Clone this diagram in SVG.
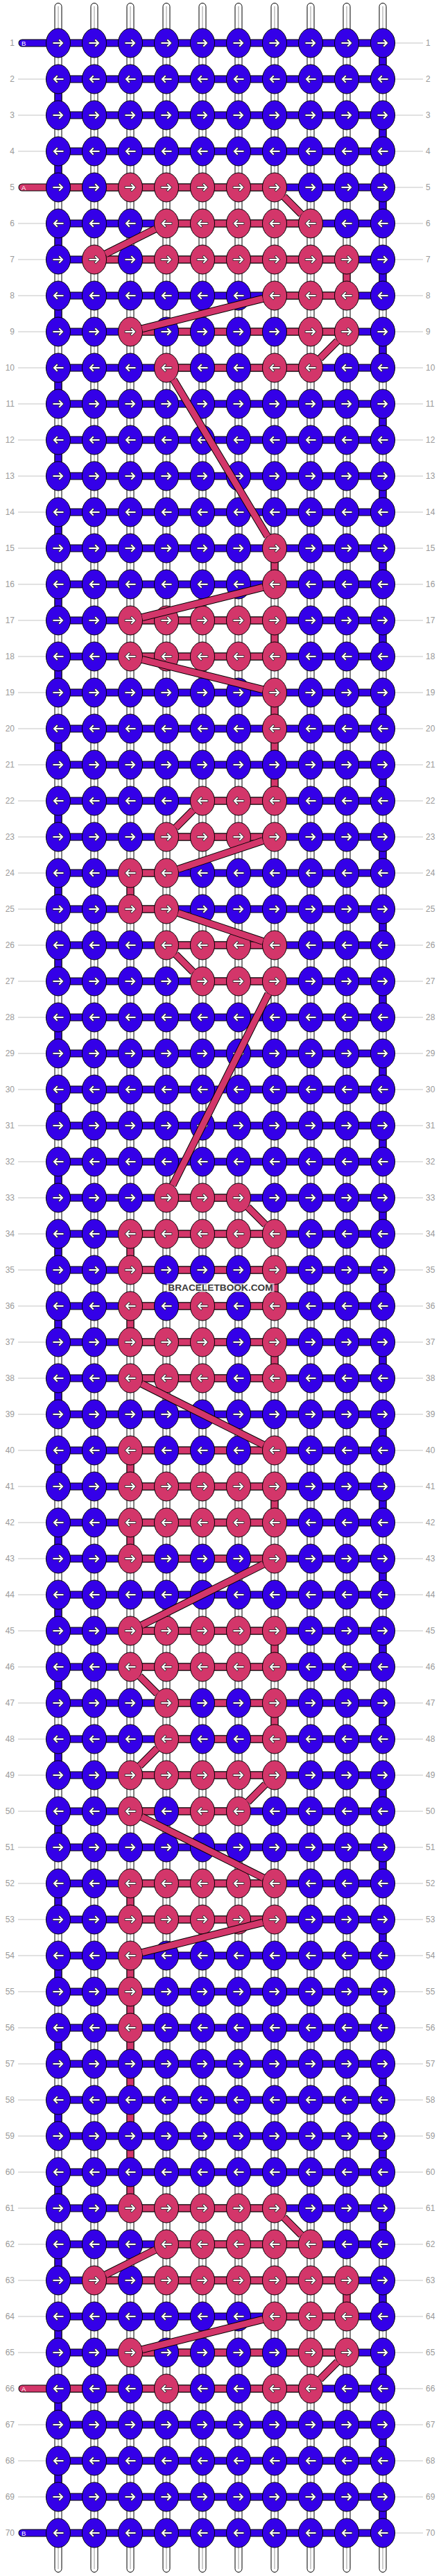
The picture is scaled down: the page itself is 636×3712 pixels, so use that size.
<svg xmlns="http://www.w3.org/2000/svg" xmlns:xlink="http://www.w3.org/1999/xlink" width="636" height="3712" viewBox="0 0 636 3712">
<defs>
<style>
.lb{font-family:"Liberation Sans",Arial,sans-serif;font-size:12px;fill:#9a9a9a}
.gl{fill:none;stroke:#c4c4c4;stroke-width:1}
.ol{fill:none;stroke:#000;stroke-width:11}
.bf{fill:none;stroke:#3400e8;stroke-width:9}
.pf{fill:none;stroke:#d3366a;stroke-width:9}
.rc{stroke-linecap:round}
.st{fill:#fff;stroke:#000;stroke-width:1}
.sm{stroke:#9a9a9a;stroke-width:1}
.ao{fill:none;stroke:#2a2a2a;stroke-width:3.6;stroke-linecap:square}
.ai{fill:none;stroke:#fff;stroke-width:2;stroke-linecap:square}
.tl{font-family:"Liberation Sans",Arial,sans-serif;font-size:9.5px;fill:#fff}
</style>
<g id="AR"><path class="ao" d="M-6.5,0H5.5M2,-4L6,0L2,4"/><path class="ai" d="M-6.5,0H5.5M2,-4L6,0L2,4"/></g>
<g id="BR"><ellipse rx="17.5" ry="21" fill="#3400e8" stroke="#000"/><use href="#AR"/></g>
<g id="BL"><ellipse rx="17.5" ry="21" fill="#3400e8" stroke="#000"/><use href="#AR" transform="scale(-1,1)"/></g>
<g id="PR"><ellipse rx="17.5" ry="21" fill="#d3366a" stroke="#000"/><use href="#AR"/></g>
<g id="PL"><ellipse rx="17.5" ry="21" fill="#d3366a" stroke="#000"/><use href="#AR" transform="scale(-1,1)"/></g>
<path id="hb" d="M84,62H552M84,114H552M84,166H552M84,218H552M84,270H552M84,322H552M84,374H552M84,426H552M84,478H552M84,530H552M84,582H552M84,634H552M84,686H552M84,738H552M84,790H552M84,842H552M84,894H552M84,946H552M84,998H552M84,1050H552M84,1102H552M84,1154H552M84,1206H552M84,1258H552M84,1310H552M84,1362H552M84,1414H552M84,1466H552M84,1518H552M84,1570H552M84,1622H552M84,1674H552M84,1726H552M84,1778H552M84,1830H552M84,1882H552M84,1934H552M84,1986H552M84,2038H552M84,2090H552M84,2142H552M84,2194H552M84,2246H552M84,2298H552M84,2350H552M84,2402H552M84,2454H552M84,2506H552M84,2558H552M84,2610H552M84,2662H552M84,2714H552M84,2766H552M84,2818H552M84,2870H552M84,2922H552M84,2974H552M84,3026H552M84,3078H552M84,3130H552M84,3182H552M84,3234H552M84,3286H552M84,3338H552M84,3390H552M84,3442H552M84,3494H552M84,3546H552M84,3598H552M84,3650H552"/>
<path id="ve" d="M552,62V114M552,166V218M552,270V322M552,374V426M552,478V530M552,582V634M552,686V738M552,790V842M552,894V946M552,998V1050M552,1102V1154M552,1206V1258M552,1310V1362M552,1414V1466M552,1518V1570M552,1622V1674M552,1726V1778M552,1830V1882M552,1934V1986M552,2038V2090M552,2142V2194M552,2246V2298M552,2350V2402M552,2454V2506M552,2558V2610M552,2662V2714M552,2766V2818M552,2870V2922M552,2974V3026M552,3078V3130M552,3182V3234M552,3286V3338M552,3390V3442M552,3494V3546M552,3598V3650M84,114V166M84,218V270M84,322V374M84,426V478M84,530V582M84,634V686M84,738V790M84,842V894M84,946V998M84,1050V1102M84,1154V1206M84,1258V1310M84,1362V1414M84,1466V1518M84,1570V1622M84,1674V1726M84,1778V1830M84,1882V1934M84,1986V2038M84,2090V2142M84,2194V2246M84,2298V2350M84,2402V2454M84,2506V2558M84,2610V2662M84,2714V2766M84,2818V2870M84,2922V2974M84,3026V3078M84,3130V3182M84,3234V3286M84,3338V3390M84,3442V3494M84,3546V3598"/>
<path id="tb" d="M32,62H84M32,3650H84"/>
<path id="ta" d="M32,270H84M32,3442H84"/>
<path id="hp" d="M84,270H396M240,322H448M136,374H500M396,426H500M188,478H500M240,530H448M188,894H396M188,946H396M292,1154H396M240,1206H396M188,1258H240M188,1310H240M240,1362H396M292,1414H396M240,1726H344M188,1778H396M188,1830H396M188,1882H396M188,1934H396M188,1986H396M188,2090H396M188,2142H396M188,2194H396M188,2246H396M188,2350H396M188,2402H396M240,2454H396M240,2506H396M188,2558H396M188,2610H344M188,2714H396M188,2766H396M188,3182H396M240,3234H448M136,3286H500M396,3338H500M188,3390H500M84,3442H448"/>
<path id="vp" d="M500,374V426M396,790V842M396,894V946M396,998V1154M188,1258V1310M188,1778V1830M396,1830V1882M188,1882V1934M396,1934V1986M188,2090V2142M396,2142V2194M188,2194V2246M396,2350V2402M396,2454V2506M188,2714V2766M188,2818V3182M500,3286V3338"/>
<path id="dg" d="M409.4,283.4L434.6,308.6M223.8,330.1L152.2,365.9M378.9,430.3L205.1,473.7M486.6,491.4L461.4,516.6M250.2,547L385.8,773M378.9,846.3L205.1,889.7M205.1,950.3L378.9,993.7M278.6,1167.4L253.4,1192.6M379.1,1211.6L256.9,1252.4M256.9,1315.6L379.1,1356.4M253.4,1375.4L278.6,1400.6M387,1432L249,1708M357.4,1739.4L382.6,1764.6M204.2,1994.1L379.8,2081.9M379.8,2254.1L204.2,2341.9M201.4,2415.4L226.6,2440.6M226.6,2519.4L201.4,2544.6M382.6,2571.4L357.4,2596.6M204.2,2618.1L379.8,2705.9M378.9,2770.3L205.1,2813.7M409.4,3195.4L434.6,3220.6M223.8,3242.1L152.2,3277.9M378.9,3342.3L205.1,3385.7M486.6,3403.4L461.4,3428.6"/>
</defs>
<rect width="636" height="3712" fill="#fff"/>
<g id="labels">
<path class="gl" d="M26,114H66M26,166H66M26,218H66M26,322H66M26,374H66M26,426H66M26,478H66M26,530H66M26,582H66M26,634H66M26,686H66M26,738H66M26,790H66M26,842H66M26,894H66M26,946H66M26,998H66M26,1050H66M26,1102H66M26,1154H66M26,1206H66M26,1258H66M26,1310H66M26,1362H66M26,1414H66M26,1466H66M26,1518H66M26,1570H66M26,1622H66M26,1674H66M26,1726H66M26,1778H66M26,1830H66M26,1882H66M26,1934H66M26,1986H66M26,2038H66M26,2090H66M26,2142H66M26,2194H66M26,2246H66M26,2298H66M26,2350H66M26,2402H66M26,2454H66M26,2506H66M26,2558H66M26,2610H66M26,2662H66M26,2714H66M26,2766H66M26,2818H66M26,2870H66M26,2922H66M26,2974H66M26,3026H66M26,3078H66M26,3130H66M26,3182H66M26,3234H66M26,3286H66M26,3338H66M26,3390H66M26,3494H66M26,3546H66M26,3598H66"/>
<path class="gl" d="M570,62H610M570,114H610M570,166H610M570,218H610M570,270H610M570,322H610M570,374H610M570,426H610M570,478H610M570,530H610M570,582H610M570,634H610M570,686H610M570,738H610M570,790H610M570,842H610M570,894H610M570,946H610M570,998H610M570,1050H610M570,1102H610M570,1154H610M570,1206H610M570,1258H610M570,1310H610M570,1362H610M570,1414H610M570,1466H610M570,1518H610M570,1570H610M570,1622H610M570,1674H610M570,1726H610M570,1778H610M570,1830H610M570,1882H610M570,1934H610M570,1986H610M570,2038H610M570,2090H610M570,2142H610M570,2194H610M570,2246H610M570,2298H610M570,2350H610M570,2402H610M570,2454H610M570,2506H610M570,2558H610M570,2610H610M570,2662H610M570,2714H610M570,2766H610M570,2818H610M570,2870H610M570,2922H610M570,2974H610M570,3026H610M570,3078H610M570,3130H610M570,3182H610M570,3234H610M570,3286H610M570,3338H610M570,3390H610M570,3442H610M570,3494H610M570,3546H610M570,3598H610M570,3650H610"/>
<g class="lb" text-anchor="end">
<text x="21" y="66">1</text><text x="21" y="118">2</text><text x="21" y="170">3</text><text x="21" y="222">4</text><text x="21" y="274">5</text><text x="21" y="326">6</text><text x="21" y="378">7</text><text x="21" y="430">8</text><text x="21" y="482">9</text><text x="21" y="534">10</text>
<text x="21" y="586">11</text><text x="21" y="638">12</text><text x="21" y="690">13</text><text x="21" y="742">14</text><text x="21" y="794">15</text><text x="21" y="846">16</text><text x="21" y="898">17</text><text x="21" y="950">18</text><text x="21" y="1002">19</text><text x="21" y="1054">20</text>
<text x="21" y="1106">21</text><text x="21" y="1158">22</text><text x="21" y="1210">23</text><text x="21" y="1262">24</text><text x="21" y="1314">25</text><text x="21" y="1366">26</text><text x="21" y="1418">27</text><text x="21" y="1470">28</text><text x="21" y="1522">29</text><text x="21" y="1574">30</text>
<text x="21" y="1626">31</text><text x="21" y="1678">32</text><text x="21" y="1730">33</text><text x="21" y="1782">34</text><text x="21" y="1834">35</text><text x="21" y="1886">36</text><text x="21" y="1938">37</text><text x="21" y="1990">38</text><text x="21" y="2042">39</text><text x="21" y="2094">40</text>
<text x="21" y="2146">41</text><text x="21" y="2198">42</text><text x="21" y="2250">43</text><text x="21" y="2302">44</text><text x="21" y="2354">45</text><text x="21" y="2406">46</text><text x="21" y="2458">47</text><text x="21" y="2510">48</text><text x="21" y="2562">49</text><text x="21" y="2614">50</text>
<text x="21" y="2666">51</text><text x="21" y="2718">52</text><text x="21" y="2770">53</text><text x="21" y="2822">54</text><text x="21" y="2874">55</text><text x="21" y="2926">56</text><text x="21" y="2978">57</text><text x="21" y="3030">58</text><text x="21" y="3082">59</text><text x="21" y="3134">60</text>
<text x="21" y="3186">61</text><text x="21" y="3238">62</text><text x="21" y="3290">63</text><text x="21" y="3342">64</text><text x="21" y="3394">65</text><text x="21" y="3446">66</text><text x="21" y="3498">67</text><text x="21" y="3550">68</text><text x="21" y="3602">69</text><text x="21" y="3654">70</text>
</g>
<g class="lb" text-anchor="start">
<text x="614" y="66">1</text><text x="614" y="118">2</text><text x="614" y="170">3</text><text x="614" y="222">4</text><text x="614" y="274">5</text><text x="614" y="326">6</text><text x="614" y="378">7</text><text x="614" y="430">8</text><text x="614" y="482">9</text><text x="614" y="534">10</text>
<text x="614" y="586">11</text><text x="614" y="638">12</text><text x="614" y="690">13</text><text x="614" y="742">14</text><text x="614" y="794">15</text><text x="614" y="846">16</text><text x="614" y="898">17</text><text x="614" y="950">18</text><text x="614" y="1002">19</text><text x="614" y="1054">20</text>
<text x="614" y="1106">21</text><text x="614" y="1158">22</text><text x="614" y="1210">23</text><text x="614" y="1262">24</text><text x="614" y="1314">25</text><text x="614" y="1366">26</text><text x="614" y="1418">27</text><text x="614" y="1470">28</text><text x="614" y="1522">29</text><text x="614" y="1574">30</text>
<text x="614" y="1626">31</text><text x="614" y="1678">32</text><text x="614" y="1730">33</text><text x="614" y="1782">34</text><text x="614" y="1834">35</text><text x="614" y="1886">36</text><text x="614" y="1938">37</text><text x="614" y="1990">38</text><text x="614" y="2042">39</text><text x="614" y="2094">40</text>
<text x="614" y="2146">41</text><text x="614" y="2198">42</text><text x="614" y="2250">43</text><text x="614" y="2302">44</text><text x="614" y="2354">45</text><text x="614" y="2406">46</text><text x="614" y="2458">47</text><text x="614" y="2510">48</text><text x="614" y="2562">49</text><text x="614" y="2614">50</text>
<text x="614" y="2666">51</text><text x="614" y="2718">52</text><text x="614" y="2770">53</text><text x="614" y="2822">54</text><text x="614" y="2874">55</text><text x="614" y="2926">56</text><text x="614" y="2978">57</text><text x="614" y="3030">58</text><text x="614" y="3082">59</text><text x="614" y="3134">60</text>
<text x="614" y="3186">61</text><text x="614" y="3238">62</text><text x="614" y="3290">63</text><text x="614" y="3342">64</text><text x="614" y="3394">65</text><text x="614" y="3446">66</text><text x="614" y="3498">67</text><text x="614" y="3550">68</text><text x="614" y="3602">69</text><text x="614" y="3654">70</text>
</g>
</g>
<g id="strands">
<rect class="st" x="79" y="4.5" width="10" height="3702" rx="5"/><path class="sm" d="M84,9V3702"/>
<rect class="st" x="131" y="4.5" width="10" height="3702" rx="5"/><path class="sm" d="M136,9V3702"/>
<rect class="st" x="183" y="4.5" width="10" height="3702" rx="5"/><path class="sm" d="M188,9V3702"/>
<rect class="st" x="235" y="4.5" width="10" height="3702" rx="5"/><path class="sm" d="M240,9V3702"/>
<rect class="st" x="287" y="4.5" width="10" height="3702" rx="5"/><path class="sm" d="M292,9V3702"/>
<rect class="st" x="339" y="4.5" width="10" height="3702" rx="5"/><path class="sm" d="M344,9V3702"/>
<rect class="st" x="391" y="4.5" width="10" height="3702" rx="5"/><path class="sm" d="M396,9V3702"/>
<rect class="st" x="443" y="4.5" width="10" height="3702" rx="5"/><path class="sm" d="M448,9V3702"/>
<rect class="st" x="495" y="4.5" width="10" height="3702" rx="5"/><path class="sm" d="M500,9V3702"/>
<rect class="st" x="547" y="4.5" width="10" height="3702" rx="5"/><path class="sm" d="M552,9V3702"/>
</g>
<g id="threads">
<use href="#hb" class="ol"/><use href="#hb" class="bf"/>
<use href="#ve" class="ol"/><use href="#ve" class="bf"/>
<use href="#tb" class="ol rc"/><use href="#tb" class="bf rc"/>
<use href="#ta" class="ol rc"/><use href="#ta" class="pf rc"/>
<use href="#hp" class="ol"/><use href="#hp" class="pf"/>
<use href="#vp" class="ol"/><use href="#vp" class="pf"/>
<text class="tl" x="31" y="65.5">B</text>
<text class="tl" x="31" y="273.5">A</text>
<text class="tl" x="31" y="3445.5">A</text>
<text class="tl" x="31" y="3653.5">B</text>
</g>
<g id="nodes">
<g id="row1" transform="translate(0,62)"><g id="n1-1"><use href="#BR" x="84"/></g><g id="n1-2"><use href="#BR" x="136"/></g><g id="n1-3"><use href="#BR" x="188"/></g><g id="n1-4"><use href="#BR" x="240"/></g><g id="n1-5"><use href="#BR" x="292"/></g><g id="n1-6"><use href="#BR" x="344"/></g><g id="n1-7"><use href="#BR" x="396"/></g><g id="n1-8"><use href="#BR" x="448"/></g><g id="n1-9"><use href="#BR" x="500"/></g><g id="n1-10"><use href="#BR" x="552"/></g></g>
<g id="row2" transform="translate(0,114)"><g id="n2-1"><use href="#BL" x="84"/></g><g id="n2-2"><use href="#BL" x="136"/></g><g id="n2-3"><use href="#BL" x="188"/></g><g id="n2-4"><use href="#BL" x="240"/></g><g id="n2-5"><use href="#BL" x="292"/></g><g id="n2-6"><use href="#BL" x="344"/></g><g id="n2-7"><use href="#BL" x="396"/></g><g id="n2-8"><use href="#BL" x="448"/></g><g id="n2-9"><use href="#BL" x="500"/></g><g id="n2-10"><use href="#BL" x="552"/></g></g>
<g id="row3" transform="translate(0,166)"><g id="n3-1"><use href="#BR" x="84"/></g><g id="n3-2"><use href="#BR" x="136"/></g><g id="n3-3"><use href="#BR" x="188"/></g><g id="n3-4"><use href="#BR" x="240"/></g><g id="n3-5"><use href="#BR" x="292"/></g><g id="n3-6"><use href="#BR" x="344"/></g><g id="n3-7"><use href="#BR" x="396"/></g><g id="n3-8"><use href="#BR" x="448"/></g><g id="n3-9"><use href="#BR" x="500"/></g><g id="n3-10"><use href="#BR" x="552"/></g></g>
<g id="row4" transform="translate(0,218)"><g id="n4-1"><use href="#BL" x="84"/></g><g id="n4-2"><use href="#BL" x="136"/></g><g id="n4-3"><use href="#BL" x="188"/></g><g id="n4-4"><use href="#BL" x="240"/></g><g id="n4-5"><use href="#BL" x="292"/></g><g id="n4-6"><use href="#BL" x="344"/></g><g id="n4-7"><use href="#BL" x="396"/></g><g id="n4-8"><use href="#BL" x="448"/></g><g id="n4-9"><use href="#BL" x="500"/></g><g id="n4-10"><use href="#BL" x="552"/></g></g>
<g id="row5" transform="translate(0,270)"><g id="n5-1"><use href="#BR" x="84"/></g><g id="n5-2"><use href="#BR" x="136"/></g><g id="n5-3"><use href="#PR" x="188"/></g><g id="n5-4"><use href="#PR" x="240"/></g><g id="n5-5"><use href="#PR" x="292"/></g><g id="n5-6"><use href="#PR" x="344"/></g><g id="n5-7"><use href="#PR" x="396"/></g><g id="n5-8"><use href="#BR" x="448"/></g><g id="n5-9"><use href="#BR" x="500"/></g><g id="n5-10"><use href="#BR" x="552"/></g></g>
<g id="row6" transform="translate(0,322)"><g id="n6-1"><use href="#BL" x="84"/></g><g id="n6-2"><use href="#BL" x="136"/></g><g id="n6-3"><use href="#BL" x="188"/></g><g id="n6-4"><use href="#PL" x="240"/></g><g id="n6-5"><use href="#PL" x="292"/></g><g id="n6-6"><use href="#PL" x="344"/></g><g id="n6-7"><use href="#PL" x="396"/></g><g id="n6-8"><use href="#PL" x="448"/></g><g id="n6-9"><use href="#BL" x="500"/></g><g id="n6-10"><use href="#BL" x="552"/></g></g>
<g id="row7" transform="translate(0,374)"><g id="n7-1"><use href="#BR" x="84"/></g><g id="n7-2"><use href="#PR" x="136"/></g><g id="n7-3"><use href="#BR" x="188"/></g><g id="n7-4"><use href="#PR" x="240"/></g><g id="n7-5"><use href="#PR" x="292"/></g><g id="n7-6"><use href="#PR" x="344"/></g><g id="n7-7"><use href="#PR" x="396"/></g><g id="n7-8"><use href="#PR" x="448"/></g><g id="n7-9"><use href="#PR" x="500"/></g><g id="n7-10"><use href="#BR" x="552"/></g></g>
<g id="row8" transform="translate(0,426)"><g id="n8-1"><use href="#BL" x="84"/></g><g id="n8-2"><use href="#BL" x="136"/></g><g id="n8-3"><use href="#BL" x="188"/></g><g id="n8-4"><use href="#BL" x="240"/></g><g id="n8-5"><use href="#BL" x="292"/></g><g id="n8-6"><use href="#BL" x="344"/></g><g id="n8-7"><use href="#PL" x="396"/></g><g id="n8-8"><use href="#PL" x="448"/></g><g id="n8-9"><use href="#PL" x="500"/></g><g id="n8-10"><use href="#BL" x="552"/></g></g>
<g id="row9" transform="translate(0,478)"><g id="n9-1"><use href="#BR" x="84"/></g><g id="n9-2"><use href="#BR" x="136"/></g><g id="n9-3"><use href="#PR" x="188"/></g><g id="n9-4"><use href="#BR" x="240"/></g><g id="n9-5"><use href="#BR" x="292"/></g><g id="n9-6"><use href="#BR" x="344"/></g><g id="n9-7"><use href="#BR" x="396"/></g><g id="n9-8"><use href="#PR" x="448"/></g><g id="n9-9"><use href="#PR" x="500"/></g><g id="n9-10"><use href="#BR" x="552"/></g></g>
<g id="row10" transform="translate(0,530)"><g id="n10-1"><use href="#BL" x="84"/></g><g id="n10-2"><use href="#BL" x="136"/></g><g id="n10-3"><use href="#BL" x="188"/></g><g id="n10-4"><use href="#PL" x="240"/></g><g id="n10-5"><use href="#BL" x="292"/></g><g id="n10-6"><use href="#BL" x="344"/></g><g id="n10-7"><use href="#PL" x="396"/></g><g id="n10-8"><use href="#PL" x="448"/></g><g id="n10-9"><use href="#BL" x="500"/></g><g id="n10-10"><use href="#BL" x="552"/></g></g>
<g id="row11" transform="translate(0,582)"><g id="n11-1"><use href="#BR" x="84"/></g><g id="n11-2"><use href="#BR" x="136"/></g><g id="n11-3"><use href="#BR" x="188"/></g><g id="n11-4"><use href="#BR" x="240"/></g><g id="n11-5"><use href="#BR" x="292"/></g><g id="n11-6"><use href="#BR" x="344"/></g><g id="n11-7"><use href="#BR" x="396"/></g><g id="n11-8"><use href="#BR" x="448"/></g><g id="n11-9"><use href="#BR" x="500"/></g><g id="n11-10"><use href="#BR" x="552"/></g></g>
<g id="row12" transform="translate(0,634)"><g id="n12-1"><use href="#BL" x="84"/></g><g id="n12-2"><use href="#BL" x="136"/></g><g id="n12-3"><use href="#BL" x="188"/></g><g id="n12-4"><use href="#BL" x="240"/></g><g id="n12-5"><use href="#BL" x="292"/></g><g id="n12-6"><use href="#BL" x="344"/></g><g id="n12-7"><use href="#BL" x="396"/></g><g id="n12-8"><use href="#BL" x="448"/></g><g id="n12-9"><use href="#BL" x="500"/></g><g id="n12-10"><use href="#BL" x="552"/></g></g>
<g id="row13" transform="translate(0,686)"><g id="n13-1"><use href="#BR" x="84"/></g><g id="n13-2"><use href="#BR" x="136"/></g><g id="n13-3"><use href="#BR" x="188"/></g><g id="n13-4"><use href="#BR" x="240"/></g><g id="n13-5"><use href="#BR" x="292"/></g><g id="n13-6"><use href="#BR" x="344"/></g><g id="n13-7"><use href="#BR" x="396"/></g><g id="n13-8"><use href="#BR" x="448"/></g><g id="n13-9"><use href="#BR" x="500"/></g><g id="n13-10"><use href="#BR" x="552"/></g></g>
<g id="row14" transform="translate(0,738)"><g id="n14-1"><use href="#BL" x="84"/></g><g id="n14-2"><use href="#BL" x="136"/></g><g id="n14-3"><use href="#BL" x="188"/></g><g id="n14-4"><use href="#BL" x="240"/></g><g id="n14-5"><use href="#BL" x="292"/></g><g id="n14-6"><use href="#BL" x="344"/></g><g id="n14-7"><use href="#BL" x="396"/></g><g id="n14-8"><use href="#BL" x="448"/></g><g id="n14-9"><use href="#BL" x="500"/></g><g id="n14-10"><use href="#BL" x="552"/></g></g>
<g id="row15" transform="translate(0,790)"><g id="n15-1"><use href="#BR" x="84"/></g><g id="n15-2"><use href="#BR" x="136"/></g><g id="n15-3"><use href="#BR" x="188"/></g><g id="n15-4"><use href="#BR" x="240"/></g><g id="n15-5"><use href="#BR" x="292"/></g><g id="n15-6"><use href="#BR" x="344"/></g><g id="n15-7"><use href="#PR" x="396"/></g><g id="n15-8"><use href="#BR" x="448"/></g><g id="n15-9"><use href="#BR" x="500"/></g><g id="n15-10"><use href="#BR" x="552"/></g></g>
<g id="row16" transform="translate(0,842)"><g id="n16-1"><use href="#BL" x="84"/></g><g id="n16-2"><use href="#BL" x="136"/></g><g id="n16-3"><use href="#BL" x="188"/></g><g id="n16-4"><use href="#BL" x="240"/></g><g id="n16-5"><use href="#BL" x="292"/></g><g id="n16-6"><use href="#BL" x="344"/></g><g id="n16-7"><use href="#PL" x="396"/></g><g id="n16-8"><use href="#BL" x="448"/></g><g id="n16-9"><use href="#BL" x="500"/></g><g id="n16-10"><use href="#BL" x="552"/></g></g>
<g id="row17" transform="translate(0,894)"><g id="n17-1"><use href="#BR" x="84"/></g><g id="n17-2"><use href="#BR" x="136"/></g><g id="n17-3"><use href="#PR" x="188"/></g><g id="n17-4"><use href="#PR" x="240"/></g><g id="n17-5"><use href="#PR" x="292"/></g><g id="n17-6"><use href="#PR" x="344"/></g><g id="n17-7"><use href="#PR" x="396"/></g><g id="n17-8"><use href="#BR" x="448"/></g><g id="n17-9"><use href="#BR" x="500"/></g><g id="n17-10"><use href="#BR" x="552"/></g></g>
<g id="row18" transform="translate(0,946)"><g id="n18-1"><use href="#BL" x="84"/></g><g id="n18-2"><use href="#BL" x="136"/></g><g id="n18-3"><use href="#PL" x="188"/></g><g id="n18-4"><use href="#PL" x="240"/></g><g id="n18-5"><use href="#PL" x="292"/></g><g id="n18-6"><use href="#PL" x="344"/></g><g id="n18-7"><use href="#PL" x="396"/></g><g id="n18-8"><use href="#BL" x="448"/></g><g id="n18-9"><use href="#BL" x="500"/></g><g id="n18-10"><use href="#BL" x="552"/></g></g>
<g id="row19" transform="translate(0,998)"><g id="n19-1"><use href="#BR" x="84"/></g><g id="n19-2"><use href="#BR" x="136"/></g><g id="n19-3"><use href="#BR" x="188"/></g><g id="n19-4"><use href="#BR" x="240"/></g><g id="n19-5"><use href="#BR" x="292"/></g><g id="n19-6"><use href="#BR" x="344"/></g><g id="n19-7"><use href="#PR" x="396"/></g><g id="n19-8"><use href="#BR" x="448"/></g><g id="n19-9"><use href="#BR" x="500"/></g><g id="n19-10"><use href="#BR" x="552"/></g></g>
<g id="row20" transform="translate(0,1050)"><g id="n20-1"><use href="#BL" x="84"/></g><g id="n20-2"><use href="#BL" x="136"/></g><g id="n20-3"><use href="#BL" x="188"/></g><g id="n20-4"><use href="#BL" x="240"/></g><g id="n20-5"><use href="#BL" x="292"/></g><g id="n20-6"><use href="#BL" x="344"/></g><g id="n20-7"><use href="#PL" x="396"/></g><g id="n20-8"><use href="#BL" x="448"/></g><g id="n20-9"><use href="#BL" x="500"/></g><g id="n20-10"><use href="#BL" x="552"/></g></g>
<g id="row21" transform="translate(0,1102)"><g id="n21-1"><use href="#BR" x="84"/></g><g id="n21-2"><use href="#BR" x="136"/></g><g id="n21-3"><use href="#BR" x="188"/></g><g id="n21-4"><use href="#BR" x="240"/></g><g id="n21-5"><use href="#BR" x="292"/></g><g id="n21-6"><use href="#BR" x="344"/></g><g id="n21-7"><use href="#BR" x="396"/></g><g id="n21-8"><use href="#BR" x="448"/></g><g id="n21-9"><use href="#BR" x="500"/></g><g id="n21-10"><use href="#BR" x="552"/></g></g>
<g id="row22" transform="translate(0,1154)"><g id="n22-1"><use href="#BL" x="84"/></g><g id="n22-2"><use href="#BL" x="136"/></g><g id="n22-3"><use href="#BL" x="188"/></g><g id="n22-4"><use href="#BL" x="240"/></g><g id="n22-5"><use href="#PL" x="292"/></g><g id="n22-6"><use href="#PL" x="344"/></g><g id="n22-7"><use href="#PL" x="396"/></g><g id="n22-8"><use href="#BL" x="448"/></g><g id="n22-9"><use href="#BL" x="500"/></g><g id="n22-10"><use href="#BL" x="552"/></g></g>
<g id="row23" transform="translate(0,1206)"><g id="n23-1"><use href="#BR" x="84"/></g><g id="n23-2"><use href="#BR" x="136"/></g><g id="n23-3"><use href="#BR" x="188"/></g><g id="n23-4"><use href="#PR" x="240"/></g><g id="n23-5"><use href="#PR" x="292"/></g><g id="n23-6"><use href="#PR" x="344"/></g><g id="n23-7"><use href="#PR" x="396"/></g><g id="n23-8"><use href="#BR" x="448"/></g><g id="n23-9"><use href="#BR" x="500"/></g><g id="n23-10"><use href="#BR" x="552"/></g></g>
<g id="row24" transform="translate(0,1258)"><g id="n24-1"><use href="#BL" x="84"/></g><g id="n24-2"><use href="#BL" x="136"/></g><g id="n24-3"><use href="#PL" x="188"/></g><g id="n24-4"><use href="#PL" x="240"/></g><g id="n24-5"><use href="#BL" x="292"/></g><g id="n24-6"><use href="#BL" x="344"/></g><g id="n24-7"><use href="#BL" x="396"/></g><g id="n24-8"><use href="#BL" x="448"/></g><g id="n24-9"><use href="#BL" x="500"/></g><g id="n24-10"><use href="#BL" x="552"/></g></g>
<g id="row25" transform="translate(0,1310)"><g id="n25-1"><use href="#BR" x="84"/></g><g id="n25-2"><use href="#BR" x="136"/></g><g id="n25-3"><use href="#PR" x="188"/></g><g id="n25-4"><use href="#PR" x="240"/></g><g id="n25-5"><use href="#BR" x="292"/></g><g id="n25-6"><use href="#BR" x="344"/></g><g id="n25-7"><use href="#BR" x="396"/></g><g id="n25-8"><use href="#BR" x="448"/></g><g id="n25-9"><use href="#BR" x="500"/></g><g id="n25-10"><use href="#BR" x="552"/></g></g>
<g id="row26" transform="translate(0,1362)"><g id="n26-1"><use href="#BL" x="84"/></g><g id="n26-2"><use href="#BL" x="136"/></g><g id="n26-3"><use href="#BL" x="188"/></g><g id="n26-4"><use href="#PL" x="240"/></g><g id="n26-5"><use href="#PL" x="292"/></g><g id="n26-6"><use href="#PL" x="344"/></g><g id="n26-7"><use href="#PL" x="396"/></g><g id="n26-8"><use href="#BL" x="448"/></g><g id="n26-9"><use href="#BL" x="500"/></g><g id="n26-10"><use href="#BL" x="552"/></g></g>
<g id="row27" transform="translate(0,1414)"><g id="n27-1"><use href="#BR" x="84"/></g><g id="n27-2"><use href="#BR" x="136"/></g><g id="n27-3"><use href="#BR" x="188"/></g><g id="n27-4"><use href="#BR" x="240"/></g><g id="n27-5"><use href="#PR" x="292"/></g><g id="n27-6"><use href="#PR" x="344"/></g><g id="n27-7"><use href="#PR" x="396"/></g><g id="n27-8"><use href="#BR" x="448"/></g><g id="n27-9"><use href="#BR" x="500"/></g><g id="n27-10"><use href="#BR" x="552"/></g></g>
<g id="row28" transform="translate(0,1466)"><g id="n28-1"><use href="#BL" x="84"/></g><g id="n28-2"><use href="#BL" x="136"/></g><g id="n28-3"><use href="#BL" x="188"/></g><g id="n28-4"><use href="#BL" x="240"/></g><g id="n28-5"><use href="#BL" x="292"/></g><g id="n28-6"><use href="#BL" x="344"/></g><g id="n28-7"><use href="#BL" x="396"/></g><g id="n28-8"><use href="#BL" x="448"/></g><g id="n28-9"><use href="#BL" x="500"/></g><g id="n28-10"><use href="#BL" x="552"/></g></g>
<g id="row29" transform="translate(0,1518)"><g id="n29-1"><use href="#BR" x="84"/></g><g id="n29-2"><use href="#BR" x="136"/></g><g id="n29-3"><use href="#BR" x="188"/></g><g id="n29-4"><use href="#BR" x="240"/></g><g id="n29-5"><use href="#BR" x="292"/></g><g id="n29-6"><use href="#BR" x="344"/></g><g id="n29-7"><use href="#BR" x="396"/></g><g id="n29-8"><use href="#BR" x="448"/></g><g id="n29-9"><use href="#BR" x="500"/></g><g id="n29-10"><use href="#BR" x="552"/></g></g>
<g id="row30" transform="translate(0,1570)"><g id="n30-1"><use href="#BL" x="84"/></g><g id="n30-2"><use href="#BL" x="136"/></g><g id="n30-3"><use href="#BL" x="188"/></g><g id="n30-4"><use href="#BL" x="240"/></g><g id="n30-5"><use href="#BL" x="292"/></g><g id="n30-6"><use href="#BL" x="344"/></g><g id="n30-7"><use href="#BL" x="396"/></g><g id="n30-8"><use href="#BL" x="448"/></g><g id="n30-9"><use href="#BL" x="500"/></g><g id="n30-10"><use href="#BL" x="552"/></g></g>
<g id="row31" transform="translate(0,1622)"><g id="n31-1"><use href="#BR" x="84"/></g><g id="n31-2"><use href="#BR" x="136"/></g><g id="n31-3"><use href="#BR" x="188"/></g><g id="n31-4"><use href="#BR" x="240"/></g><g id="n31-5"><use href="#BR" x="292"/></g><g id="n31-6"><use href="#BR" x="344"/></g><g id="n31-7"><use href="#BR" x="396"/></g><g id="n31-8"><use href="#BR" x="448"/></g><g id="n31-9"><use href="#BR" x="500"/></g><g id="n31-10"><use href="#BR" x="552"/></g></g>
<g id="row32" transform="translate(0,1674)"><g id="n32-1"><use href="#BL" x="84"/></g><g id="n32-2"><use href="#BL" x="136"/></g><g id="n32-3"><use href="#BL" x="188"/></g><g id="n32-4"><use href="#BL" x="240"/></g><g id="n32-5"><use href="#BL" x="292"/></g><g id="n32-6"><use href="#BL" x="344"/></g><g id="n32-7"><use href="#BL" x="396"/></g><g id="n32-8"><use href="#BL" x="448"/></g><g id="n32-9"><use href="#BL" x="500"/></g><g id="n32-10"><use href="#BL" x="552"/></g></g>
<g id="row33" transform="translate(0,1726)"><g id="n33-1"><use href="#BR" x="84"/></g><g id="n33-2"><use href="#BR" x="136"/></g><g id="n33-3"><use href="#BR" x="188"/></g><g id="n33-4"><use href="#PR" x="240"/></g><g id="n33-5"><use href="#PR" x="292"/></g><g id="n33-6"><use href="#PR" x="344"/></g><g id="n33-7"><use href="#BR" x="396"/></g><g id="n33-8"><use href="#BR" x="448"/></g><g id="n33-9"><use href="#BR" x="500"/></g><g id="n33-10"><use href="#BR" x="552"/></g></g>
<g id="row34" transform="translate(0,1778)"><g id="n34-1"><use href="#BL" x="84"/></g><g id="n34-2"><use href="#BL" x="136"/></g><g id="n34-3"><use href="#PL" x="188"/></g><g id="n34-4"><use href="#PL" x="240"/></g><g id="n34-5"><use href="#PL" x="292"/></g><g id="n34-6"><use href="#PL" x="344"/></g><g id="n34-7"><use href="#PL" x="396"/></g><g id="n34-8"><use href="#BL" x="448"/></g><g id="n34-9"><use href="#BL" x="500"/></g><g id="n34-10"><use href="#BL" x="552"/></g></g>
<g id="row35" transform="translate(0,1830)"><g id="n35-1"><use href="#BR" x="84"/></g><g id="n35-2"><use href="#BR" x="136"/></g><g id="n35-3"><use href="#PR" x="188"/></g><g id="n35-4"><use href="#BR" x="240"/></g><g id="n35-5"><use href="#BR" x="292"/></g><g id="n35-6"><use href="#BR" x="344"/></g><g id="n35-7"><use href="#PR" x="396"/></g><g id="n35-8"><use href="#BR" x="448"/></g><g id="n35-9"><use href="#BR" x="500"/></g><g id="n35-10"><use href="#BR" x="552"/></g></g>
<g id="row36" transform="translate(0,1882)"><g id="n36-1"><use href="#BL" x="84"/></g><g id="n36-2"><use href="#BL" x="136"/></g><g id="n36-3"><use href="#PL" x="188"/></g><g id="n36-4"><use href="#BL" x="240"/></g><g id="n36-5"><use href="#PL" x="292"/></g><g id="n36-6"><use href="#BL" x="344"/></g><g id="n36-7"><use href="#PL" x="396"/></g><g id="n36-8"><use href="#BL" x="448"/></g><g id="n36-9"><use href="#BL" x="500"/></g><g id="n36-10"><use href="#BL" x="552"/></g></g>
<g id="row37" transform="translate(0,1934)"><g id="n37-1"><use href="#BR" x="84"/></g><g id="n37-2"><use href="#BR" x="136"/></g><g id="n37-3"><use href="#PR" x="188"/></g><g id="n37-4"><use href="#PR" x="240"/></g><g id="n37-5"><use href="#PR" x="292"/></g><g id="n37-6"><use href="#BR" x="344"/></g><g id="n37-7"><use href="#PR" x="396"/></g><g id="n37-8"><use href="#BR" x="448"/></g><g id="n37-9"><use href="#BR" x="500"/></g><g id="n37-10"><use href="#BR" x="552"/></g></g>
<g id="row38" transform="translate(0,1986)"><g id="n38-1"><use href="#BL" x="84"/></g><g id="n38-2"><use href="#BL" x="136"/></g><g id="n38-3"><use href="#PL" x="188"/></g><g id="n38-4"><use href="#PL" x="240"/></g><g id="n38-5"><use href="#PL" x="292"/></g><g id="n38-6"><use href="#BL" x="344"/></g><g id="n38-7"><use href="#PL" x="396"/></g><g id="n38-8"><use href="#BL" x="448"/></g><g id="n38-9"><use href="#BL" x="500"/></g><g id="n38-10"><use href="#BL" x="552"/></g></g>
<g id="row39" transform="translate(0,2038)"><g id="n39-1"><use href="#BR" x="84"/></g><g id="n39-2"><use href="#BR" x="136"/></g><g id="n39-3"><use href="#BR" x="188"/></g><g id="n39-4"><use href="#BR" x="240"/></g><g id="n39-5"><use href="#BR" x="292"/></g><g id="n39-6"><use href="#BR" x="344"/></g><g id="n39-7"><use href="#BR" x="396"/></g><g id="n39-8"><use href="#BR" x="448"/></g><g id="n39-9"><use href="#BR" x="500"/></g><g id="n39-10"><use href="#BR" x="552"/></g></g>
<g id="row40" transform="translate(0,2090)"><g id="n40-1"><use href="#BL" x="84"/></g><g id="n40-2"><use href="#BL" x="136"/></g><g id="n40-3"><use href="#PL" x="188"/></g><g id="n40-4"><use href="#BL" x="240"/></g><g id="n40-5"><use href="#BL" x="292"/></g><g id="n40-6"><use href="#BL" x="344"/></g><g id="n40-7"><use href="#PL" x="396"/></g><g id="n40-8"><use href="#BL" x="448"/></g><g id="n40-9"><use href="#BL" x="500"/></g><g id="n40-10"><use href="#BL" x="552"/></g></g>
<g id="row41" transform="translate(0,2142)"><g id="n41-1"><use href="#BR" x="84"/></g><g id="n41-2"><use href="#BR" x="136"/></g><g id="n41-3"><use href="#PR" x="188"/></g><g id="n41-4"><use href="#PR" x="240"/></g><g id="n41-5"><use href="#PR" x="292"/></g><g id="n41-6"><use href="#PR" x="344"/></g><g id="n41-7"><use href="#PR" x="396"/></g><g id="n41-8"><use href="#BR" x="448"/></g><g id="n41-9"><use href="#BR" x="500"/></g><g id="n41-10"><use href="#BR" x="552"/></g></g>
<g id="row42" transform="translate(0,2194)"><g id="n42-1"><use href="#BL" x="84"/></g><g id="n42-2"><use href="#BL" x="136"/></g><g id="n42-3"><use href="#PL" x="188"/></g><g id="n42-4"><use href="#PL" x="240"/></g><g id="n42-5"><use href="#PL" x="292"/></g><g id="n42-6"><use href="#PL" x="344"/></g><g id="n42-7"><use href="#PL" x="396"/></g><g id="n42-8"><use href="#BL" x="448"/></g><g id="n42-9"><use href="#BL" x="500"/></g><g id="n42-10"><use href="#BL" x="552"/></g></g>
<g id="row43" transform="translate(0,2246)"><g id="n43-1"><use href="#BR" x="84"/></g><g id="n43-2"><use href="#BR" x="136"/></g><g id="n43-3"><use href="#PR" x="188"/></g><g id="n43-4"><use href="#BR" x="240"/></g><g id="n43-5"><use href="#BR" x="292"/></g><g id="n43-6"><use href="#BR" x="344"/></g><g id="n43-7"><use href="#PR" x="396"/></g><g id="n43-8"><use href="#BR" x="448"/></g><g id="n43-9"><use href="#BR" x="500"/></g><g id="n43-10"><use href="#BR" x="552"/></g></g>
<g id="row44" transform="translate(0,2298)"><g id="n44-1"><use href="#BL" x="84"/></g><g id="n44-2"><use href="#BL" x="136"/></g><g id="n44-3"><use href="#BL" x="188"/></g><g id="n44-4"><use href="#BL" x="240"/></g><g id="n44-5"><use href="#BL" x="292"/></g><g id="n44-6"><use href="#BL" x="344"/></g><g id="n44-7"><use href="#BL" x="396"/></g><g id="n44-8"><use href="#BL" x="448"/></g><g id="n44-9"><use href="#BL" x="500"/></g><g id="n44-10"><use href="#BL" x="552"/></g></g>
<g id="row45" transform="translate(0,2350)"><g id="n45-1"><use href="#BR" x="84"/></g><g id="n45-2"><use href="#BR" x="136"/></g><g id="n45-3"><use href="#PR" x="188"/></g><g id="n45-4"><use href="#PR" x="240"/></g><g id="n45-5"><use href="#PR" x="292"/></g><g id="n45-6"><use href="#PR" x="344"/></g><g id="n45-7"><use href="#PR" x="396"/></g><g id="n45-8"><use href="#BR" x="448"/></g><g id="n45-9"><use href="#BR" x="500"/></g><g id="n45-10"><use href="#BR" x="552"/></g></g>
<g id="row46" transform="translate(0,2402)"><g id="n46-1"><use href="#BL" x="84"/></g><g id="n46-2"><use href="#BL" x="136"/></g><g id="n46-3"><use href="#PL" x="188"/></g><g id="n46-4"><use href="#PL" x="240"/></g><g id="n46-5"><use href="#PL" x="292"/></g><g id="n46-6"><use href="#PL" x="344"/></g><g id="n46-7"><use href="#PL" x="396"/></g><g id="n46-8"><use href="#BL" x="448"/></g><g id="n46-9"><use href="#BL" x="500"/></g><g id="n46-10"><use href="#BL" x="552"/></g></g>
<g id="row47" transform="translate(0,2454)"><g id="n47-1"><use href="#BR" x="84"/></g><g id="n47-2"><use href="#BR" x="136"/></g><g id="n47-3"><use href="#BR" x="188"/></g><g id="n47-4"><use href="#PR" x="240"/></g><g id="n47-5"><use href="#BR" x="292"/></g><g id="n47-6"><use href="#BR" x="344"/></g><g id="n47-7"><use href="#PR" x="396"/></g><g id="n47-8"><use href="#BR" x="448"/></g><g id="n47-9"><use href="#BR" x="500"/></g><g id="n47-10"><use href="#BR" x="552"/></g></g>
<g id="row48" transform="translate(0,2506)"><g id="n48-1"><use href="#BL" x="84"/></g><g id="n48-2"><use href="#BL" x="136"/></g><g id="n48-3"><use href="#BL" x="188"/></g><g id="n48-4"><use href="#PL" x="240"/></g><g id="n48-5"><use href="#BL" x="292"/></g><g id="n48-6"><use href="#BL" x="344"/></g><g id="n48-7"><use href="#PL" x="396"/></g><g id="n48-8"><use href="#BL" x="448"/></g><g id="n48-9"><use href="#BL" x="500"/></g><g id="n48-10"><use href="#BL" x="552"/></g></g>
<g id="row49" transform="translate(0,2558)"><g id="n49-1"><use href="#BR" x="84"/></g><g id="n49-2"><use href="#BR" x="136"/></g><g id="n49-3"><use href="#PR" x="188"/></g><g id="n49-4"><use href="#PR" x="240"/></g><g id="n49-5"><use href="#PR" x="292"/></g><g id="n49-6"><use href="#PR" x="344"/></g><g id="n49-7"><use href="#PR" x="396"/></g><g id="n49-8"><use href="#BR" x="448"/></g><g id="n49-9"><use href="#BR" x="500"/></g><g id="n49-10"><use href="#BR" x="552"/></g></g>
<g id="row50" transform="translate(0,2610)"><g id="n50-1"><use href="#BL" x="84"/></g><g id="n50-2"><use href="#BL" x="136"/></g><g id="n50-3"><use href="#PL" x="188"/></g><g id="n50-4"><use href="#BL" x="240"/></g><g id="n50-5"><use href="#PL" x="292"/></g><g id="n50-6"><use href="#PL" x="344"/></g><g id="n50-7"><use href="#BL" x="396"/></g><g id="n50-8"><use href="#BL" x="448"/></g><g id="n50-9"><use href="#BL" x="500"/></g><g id="n50-10"><use href="#BL" x="552"/></g></g>
<g id="row51" transform="translate(0,2662)"><g id="n51-1"><use href="#BR" x="84"/></g><g id="n51-2"><use href="#BR" x="136"/></g><g id="n51-3"><use href="#BR" x="188"/></g><g id="n51-4"><use href="#BR" x="240"/></g><g id="n51-5"><use href="#BR" x="292"/></g><g id="n51-6"><use href="#BR" x="344"/></g><g id="n51-7"><use href="#BR" x="396"/></g><g id="n51-8"><use href="#BR" x="448"/></g><g id="n51-9"><use href="#BR" x="500"/></g><g id="n51-10"><use href="#BR" x="552"/></g></g>
<g id="row52" transform="translate(0,2714)"><g id="n52-1"><use href="#BL" x="84"/></g><g id="n52-2"><use href="#BL" x="136"/></g><g id="n52-3"><use href="#PL" x="188"/></g><g id="n52-4"><use href="#PL" x="240"/></g><g id="n52-5"><use href="#PL" x="292"/></g><g id="n52-6"><use href="#PL" x="344"/></g><g id="n52-7"><use href="#PL" x="396"/></g><g id="n52-8"><use href="#BL" x="448"/></g><g id="n52-9"><use href="#BL" x="500"/></g><g id="n52-10"><use href="#BL" x="552"/></g></g>
<g id="row53" transform="translate(0,2766)"><g id="n53-1"><use href="#BR" x="84"/></g><g id="n53-2"><use href="#BR" x="136"/></g><g id="n53-3"><use href="#PR" x="188"/></g><g id="n53-4"><use href="#PR" x="240"/></g><g id="n53-5"><use href="#PR" x="292"/></g><g id="n53-6"><use href="#PR" x="344"/></g><g id="n53-7"><use href="#PR" x="396"/></g><g id="n53-8"><use href="#BR" x="448"/></g><g id="n53-9"><use href="#BR" x="500"/></g><g id="n53-10"><use href="#BR" x="552"/></g></g>
<g id="row54" transform="translate(0,2818)"><g id="n54-1"><use href="#BL" x="84"/></g><g id="n54-2"><use href="#BL" x="136"/></g><g id="n54-3"><use href="#PL" x="188"/></g><g id="n54-4"><use href="#BL" x="240"/></g><g id="n54-5"><use href="#BL" x="292"/></g><g id="n54-6"><use href="#BL" x="344"/></g><g id="n54-7"><use href="#BL" x="396"/></g><g id="n54-8"><use href="#BL" x="448"/></g><g id="n54-9"><use href="#BL" x="500"/></g><g id="n54-10"><use href="#BL" x="552"/></g></g>
<g id="row55" transform="translate(0,2870)"><g id="n55-1"><use href="#BR" x="84"/></g><g id="n55-2"><use href="#BR" x="136"/></g><g id="n55-3"><use href="#PR" x="188"/></g><g id="n55-4"><use href="#BR" x="240"/></g><g id="n55-5"><use href="#BR" x="292"/></g><g id="n55-6"><use href="#BR" x="344"/></g><g id="n55-7"><use href="#BR" x="396"/></g><g id="n55-8"><use href="#BR" x="448"/></g><g id="n55-9"><use href="#BR" x="500"/></g><g id="n55-10"><use href="#BR" x="552"/></g></g>
<g id="row56" transform="translate(0,2922)"><g id="n56-1"><use href="#BL" x="84"/></g><g id="n56-2"><use href="#BL" x="136"/></g><g id="n56-3"><use href="#PL" x="188"/></g><g id="n56-4"><use href="#BL" x="240"/></g><g id="n56-5"><use href="#BL" x="292"/></g><g id="n56-6"><use href="#BL" x="344"/></g><g id="n56-7"><use href="#BL" x="396"/></g><g id="n56-8"><use href="#BL" x="448"/></g><g id="n56-9"><use href="#BL" x="500"/></g><g id="n56-10"><use href="#BL" x="552"/></g></g>
<g id="row57" transform="translate(0,2974)"><g id="n57-1"><use href="#BR" x="84"/></g><g id="n57-2"><use href="#BR" x="136"/></g><g id="n57-3"><use href="#BR" x="188"/></g><g id="n57-4"><use href="#BR" x="240"/></g><g id="n57-5"><use href="#BR" x="292"/></g><g id="n57-6"><use href="#BR" x="344"/></g><g id="n57-7"><use href="#BR" x="396"/></g><g id="n57-8"><use href="#BR" x="448"/></g><g id="n57-9"><use href="#BR" x="500"/></g><g id="n57-10"><use href="#BR" x="552"/></g></g>
<g id="row58" transform="translate(0,3026)"><g id="n58-1"><use href="#BL" x="84"/></g><g id="n58-2"><use href="#BL" x="136"/></g><g id="n58-3"><use href="#BL" x="188"/></g><g id="n58-4"><use href="#BL" x="240"/></g><g id="n58-5"><use href="#BL" x="292"/></g><g id="n58-6"><use href="#BL" x="344"/></g><g id="n58-7"><use href="#BL" x="396"/></g><g id="n58-8"><use href="#BL" x="448"/></g><g id="n58-9"><use href="#BL" x="500"/></g><g id="n58-10"><use href="#BL" x="552"/></g></g>
<g id="row59" transform="translate(0,3078)"><g id="n59-1"><use href="#BR" x="84"/></g><g id="n59-2"><use href="#BR" x="136"/></g><g id="n59-3"><use href="#BR" x="188"/></g><g id="n59-4"><use href="#BR" x="240"/></g><g id="n59-5"><use href="#BR" x="292"/></g><g id="n59-6"><use href="#BR" x="344"/></g><g id="n59-7"><use href="#BR" x="396"/></g><g id="n59-8"><use href="#BR" x="448"/></g><g id="n59-9"><use href="#BR" x="500"/></g><g id="n59-10"><use href="#BR" x="552"/></g></g>
<g id="row60" transform="translate(0,3130)"><g id="n60-1"><use href="#BL" x="84"/></g><g id="n60-2"><use href="#BL" x="136"/></g><g id="n60-3"><use href="#BL" x="188"/></g><g id="n60-4"><use href="#BL" x="240"/></g><g id="n60-5"><use href="#BL" x="292"/></g><g id="n60-6"><use href="#BL" x="344"/></g><g id="n60-7"><use href="#BL" x="396"/></g><g id="n60-8"><use href="#BL" x="448"/></g><g id="n60-9"><use href="#BL" x="500"/></g><g id="n60-10"><use href="#BL" x="552"/></g></g>
<g id="row61" transform="translate(0,3182)"><g id="n61-1"><use href="#BR" x="84"/></g><g id="n61-2"><use href="#BR" x="136"/></g><g id="n61-3"><use href="#PR" x="188"/></g><g id="n61-4"><use href="#PR" x="240"/></g><g id="n61-5"><use href="#PR" x="292"/></g><g id="n61-6"><use href="#PR" x="344"/></g><g id="n61-7"><use href="#PR" x="396"/></g><g id="n61-8"><use href="#BR" x="448"/></g><g id="n61-9"><use href="#BR" x="500"/></g><g id="n61-10"><use href="#BR" x="552"/></g></g>
<g id="row62" transform="translate(0,3234)"><g id="n62-1"><use href="#BL" x="84"/></g><g id="n62-2"><use href="#BL" x="136"/></g><g id="n62-3"><use href="#BL" x="188"/></g><g id="n62-4"><use href="#PL" x="240"/></g><g id="n62-5"><use href="#PL" x="292"/></g><g id="n62-6"><use href="#PL" x="344"/></g><g id="n62-7"><use href="#PL" x="396"/></g><g id="n62-8"><use href="#PL" x="448"/></g><g id="n62-9"><use href="#BL" x="500"/></g><g id="n62-10"><use href="#BL" x="552"/></g></g>
<g id="row63" transform="translate(0,3286)"><g id="n63-1"><use href="#BR" x="84"/></g><g id="n63-2"><use href="#PR" x="136"/></g><g id="n63-3"><use href="#BR" x="188"/></g><g id="n63-4"><use href="#PR" x="240"/></g><g id="n63-5"><use href="#PR" x="292"/></g><g id="n63-6"><use href="#PR" x="344"/></g><g id="n63-7"><use href="#PR" x="396"/></g><g id="n63-8"><use href="#PR" x="448"/></g><g id="n63-9"><use href="#PR" x="500"/></g><g id="n63-10"><use href="#BR" x="552"/></g></g>
<g id="row64" transform="translate(0,3338)"><g id="n64-1"><use href="#BL" x="84"/></g><g id="n64-2"><use href="#BL" x="136"/></g><g id="n64-3"><use href="#BL" x="188"/></g><g id="n64-4"><use href="#BL" x="240"/></g><g id="n64-5"><use href="#BL" x="292"/></g><g id="n64-6"><use href="#BL" x="344"/></g><g id="n64-7"><use href="#PL" x="396"/></g><g id="n64-8"><use href="#PL" x="448"/></g><g id="n64-9"><use href="#PL" x="500"/></g><g id="n64-10"><use href="#BL" x="552"/></g></g>
<g id="row65" transform="translate(0,3390)"><g id="n65-1"><use href="#BR" x="84"/></g><g id="n65-2"><use href="#BR" x="136"/></g><g id="n65-3"><use href="#PR" x="188"/></g><g id="n65-4"><use href="#BR" x="240"/></g><g id="n65-5"><use href="#BR" x="292"/></g><g id="n65-6"><use href="#BR" x="344"/></g><g id="n65-7"><use href="#BR" x="396"/></g><g id="n65-8"><use href="#PR" x="448"/></g><g id="n65-9"><use href="#PR" x="500"/></g><g id="n65-10"><use href="#BR" x="552"/></g></g>
<g id="row66" transform="translate(0,3442)"><g id="n66-1"><use href="#BL" x="84"/></g><g id="n66-2"><use href="#BL" x="136"/></g><g id="n66-3"><use href="#BL" x="188"/></g><g id="n66-4"><use href="#PL" x="240"/></g><g id="n66-5"><use href="#BL" x="292"/></g><g id="n66-6"><use href="#BL" x="344"/></g><g id="n66-7"><use href="#PL" x="396"/></g><g id="n66-8"><use href="#PL" x="448"/></g><g id="n66-9"><use href="#BL" x="500"/></g><g id="n66-10"><use href="#BL" x="552"/></g></g>
<g id="row67" transform="translate(0,3494)"><g id="n67-1"><use href="#BR" x="84"/></g><g id="n67-2"><use href="#BR" x="136"/></g><g id="n67-3"><use href="#BR" x="188"/></g><g id="n67-4"><use href="#BR" x="240"/></g><g id="n67-5"><use href="#BR" x="292"/></g><g id="n67-6"><use href="#BR" x="344"/></g><g id="n67-7"><use href="#BR" x="396"/></g><g id="n67-8"><use href="#BR" x="448"/></g><g id="n67-9"><use href="#BR" x="500"/></g><g id="n67-10"><use href="#BR" x="552"/></g></g>
<g id="row68" transform="translate(0,3546)"><g id="n68-1"><use href="#BL" x="84"/></g><g id="n68-2"><use href="#BL" x="136"/></g><g id="n68-3"><use href="#BL" x="188"/></g><g id="n68-4"><use href="#BL" x="240"/></g><g id="n68-5"><use href="#BL" x="292"/></g><g id="n68-6"><use href="#BL" x="344"/></g><g id="n68-7"><use href="#BL" x="396"/></g><g id="n68-8"><use href="#BL" x="448"/></g><g id="n68-9"><use href="#BL" x="500"/></g><g id="n68-10"><use href="#BL" x="552"/></g></g>
<g id="row69" transform="translate(0,3598)"><g id="n69-1"><use href="#BR" x="84"/></g><g id="n69-2"><use href="#BR" x="136"/></g><g id="n69-3"><use href="#BR" x="188"/></g><g id="n69-4"><use href="#BR" x="240"/></g><g id="n69-5"><use href="#BR" x="292"/></g><g id="n69-6"><use href="#BR" x="344"/></g><g id="n69-7"><use href="#BR" x="396"/></g><g id="n69-8"><use href="#BR" x="448"/></g><g id="n69-9"><use href="#BR" x="500"/></g><g id="n69-10"><use href="#BR" x="552"/></g></g>
<g id="row70" transform="translate(0,3650)"><g id="n70-1"><use href="#BL" x="84"/></g><g id="n70-2"><use href="#BL" x="136"/></g><g id="n70-3"><use href="#BL" x="188"/></g><g id="n70-4"><use href="#BL" x="240"/></g><g id="n70-5"><use href="#BL" x="292"/></g><g id="n70-6"><use href="#BL" x="344"/></g><g id="n70-7"><use href="#BL" x="396"/></g><g id="n70-8"><use href="#BL" x="448"/></g><g id="n70-9"><use href="#BL" x="500"/></g><g id="n70-10"><use href="#BL" x="552"/></g></g>
</g>
<g id="connectors">
<use href="#dg" class="ol"/><use href="#dg" class="pf"/>
</g>
<g id="watermark">
<rect x="240.5" y="1849" width="155" height="13" fill="#fff" fill-opacity="0.6"/>
<text x="318" y="1860" text-anchor="middle" font-family="'Liberation Sans',Arial,sans-serif" font-size="13.7" font-weight="bold" fill="#3a3a3a">BRACELETBOOK.COM</text>
</g>
</svg>
